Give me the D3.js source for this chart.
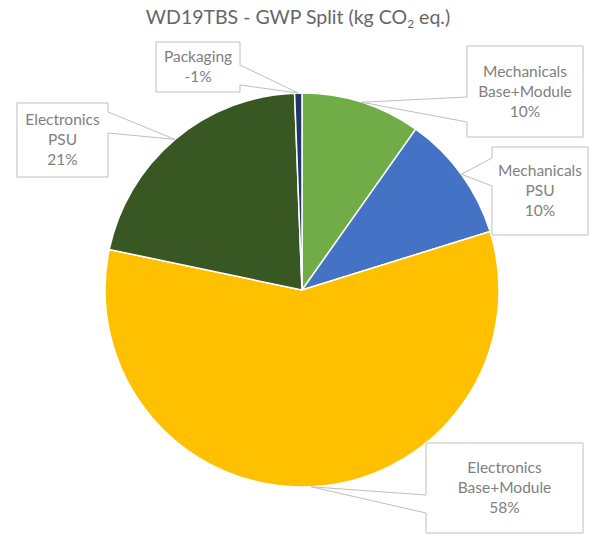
<!DOCTYPE html>
<html>
<head>
<meta charset="utf-8">
<script src="https://cdn.jsdelivr.net/npm/d3@7"></script>
<style>
  html, body { margin: 0; padding: 0; background: #fff; }
  svg { display: block; }
</style>
</head>
<body>
<svg id="chart" width="590" height="535"></svg>
<script>
// ---- data ----
const categories = ["Mechanicals Base+Module", "Mechanicals PSU", "Electronics Base+Module", "Electronics PSU", "Packaging"];
const values = [9.8, 10.4, 58.1, 21.1, -0.6];
const colors = ["#70AD47", "#4472C4", "#FFC000", "#385723", "#203864"];
const titleMain = "WD19TBS - GWP Split (kg CO";
const titleSub = "2";
const titleEnd = " eq.)";

// ---- layout (callout boxes: x0,y0,x1,y1, wedge side, wedge base a..b) ----
const boxes = [
  {x0: 467, y0: 46, x1: 583, y1: 137, side: "left", a: 97, b: 122},
  {x0: 492, y0: 147, x1: 588, y1: 235, side: "left", a: 158, b: 186},
  {x0: 426, y0: 443, x1: 583, y1: 533, side: "left", a: 495, b: 513},
  {x0: 17, y0: 103, x1: 108, y1: 177, side: "right", a: 112, b: 133},
  {x0: 156, y0: 42, x1: 240, y1: 92, side: "right", a: 65, b: 85}
];

const svg = d3.select("#chart");
const cx = 302, cy = 290, R = 197;

// title
const title = svg.append("text")
  .attr("x", 298).attr("y", 24)
  .attr("text-anchor", "middle")
  .attr("font-family", "Lato, 'Open Sans', sans-serif")
  .attr("font-size", 19.5)
  .attr("fill", "#666");
title.append("tspan").text(titleMain);
title.append("tspan").attr("font-size", 12).attr("dy", 4).text(titleSub);
title.append("tspan").attr("dy", -4).text(titleEnd);

const pie = d3.pie().sort(null).value(d => Math.abs(d));
const arcs = pie(values);
const arc = d3.arc().innerRadius(0).outerRadius(R);

const g = svg.append("g").attr("transform", `translate(${cx},${cy})`);
g.selectAll("path.slice")
  .data(arcs)
  .join("path")
  .attr("class", "slice")
  .attr("d", arc)
  .attr("fill", (d, i) => colors[i])
  .attr("stroke", "#fff")
  .attr("stroke-width", 1.5)
  .attr("stroke-linejoin", "round");

const total = d3.sum(values, v => Math.abs(v));

function calloutPath(b, tip) {
  const p = [];
  p.push([b.x0, b.y0], [b.x1, b.y0]);
  if (b.side === "right") p.push([b.x1, b.a], tip, [b.x1, b.b]);
  p.push([b.x1, b.y1], [b.x0, b.y1]);
  if (b.side === "left") p.push([b.x0, b.b], tip, [b.x0, b.a]);
  return "M" + p.map(q => q.join(",")).join("L") + "Z";
}

arcs.forEach((d, i) => {
  const mid = (d.startAngle + d.endAngle) / 2;
  const tip = [cx + R * Math.sin(mid), cy - R * Math.cos(mid)];
  const b = boxes[i];
  svg.append("path")
    .attr("d", calloutPath(b, tip))
    .attr("fill", "#fff")
    .attr("stroke", "#BFBFBF")
    .attr("stroke-width", 1);
  const pct = Math.round(values[i] / total * 100) + "%";
  const name = categories[i];
  const sp = name.indexOf(" ");
  const lines = sp > 0 ? [name.slice(0, sp), name.slice(sp + 1), pct] : [name, pct];
  const lh = 20;
  const midY = (b.y0 + b.y1) / 2;
  const startY = midY - (lines.length - 1) * lh / 2;
  const t = svg.append("text")
    .attr("text-anchor", "middle")
    .attr("font-family", "Lato, 'Open Sans', sans-serif")
    .attr("font-size", 15.5)
    .attr("fill", "#808080");
  lines.forEach((ln, k) => {
    t.append("tspan")
      .attr("x", (b.x0 + b.x1) / 2)
      .attr("y", startY + k * lh)
      .attr("dy", "0.35em")
      .text(ln);
  });
});
</script>
</body>
</html>
